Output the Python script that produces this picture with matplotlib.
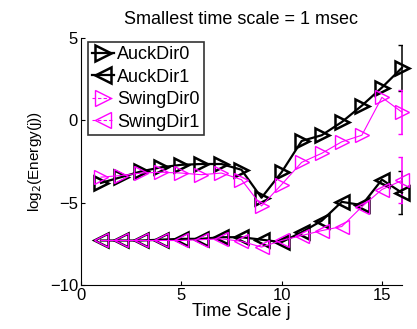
import matplotlib.pyplot as plt
import numpy as np
from matplotlib.lines import Line2D

plt.rcParams['font.family'] = ['Liberation Sans', 'DejaVu Sans']

# time scales
j = np.arange(1, 17)

auck_dir0 = [-3.8, -3.45, -3.1, -2.85, -2.7, -2.65, -2.65, -3.0, -4.7, -3.15,
             -1.25, -0.9, -0.1, 0.9, 2.0, 3.2]
auck_dir1 = [-7.3, -7.3, -7.3, -7.25, -7.2, -7.2, -7.1, -7.1, -7.25, -7.4,
             -6.8, -6.1, -4.95, -5.15, -3.6, -4.4]
swing_dir0 = [-3.45, -3.35, -3.2, -3.15, -3.2, -3.3, -3.2, -3.6, -5.2, -3.9,
              -2.55, -2.0, -1.3, -0.9, 1.4, 0.5]
swing_dir1 = [-7.3, -7.3, -7.3, -7.3, -7.3, -7.25, -7.2, -7.35, -7.7, -7.3,
              -7.0, -6.7, -6.45, -5.25, -4.2, -3.65]

# error bars drawn only at the last scale
err_last = {'auck0': 1.4, 'auck1': 1.3, 'swing0': 1.35, 'swing1': 1.4}

MAG = '#ff00ff'

fig = plt.figure(figsize=(4.17, 3.29), dpi=100)
ax = fig.add_axes([0.194, 0.134, 0.77, 0.75])

ms = 10
ax.plot(j, auck_dir0, '-', marker='>', color='k', lw=1.6, ms=ms, mew=1.8,
        mfc='none', clip_on=False, zorder=3)
ax.plot(j, auck_dir1, '-', marker='<', color='k', lw=1.6, ms=ms, mew=1.8,
        mfc='none', clip_on=False, zorder=3)
ax.plot(j, swing_dir0, '-', marker='>', color=MAG, lw=0.8, ms=ms, mew=1.0,
        mfc='none', clip_on=False, zorder=4)
ax.plot(j, swing_dir1, '-', marker='<', color=MAG, lw=0.8, ms=ms, mew=1.0,
        mfc='none', clip_on=False, zorder=4)

for y, e, c in [(auck_dir0[-1], err_last['auck0'], 'k'),
                (auck_dir1[-1], err_last['auck1'], 'k'),
                (swing_dir0[-1], err_last['swing0'], MAG),
                (swing_dir1[-1], err_last['swing1'], MAG)]:
    eb = ax.errorbar(j[-1], y, yerr=e, fmt='none', ecolor=c, elinewidth=1.1,
                     capsize=3, capthick=1.0, zorder=2)
    for bar in eb[2]:
        bar.set_clip_on(False)
    for cap in eb[1]:
        cap.set_clip_on(True)

ax.set_xlim(0, 16)
ax.set_ylim(-10, 5)
ax.set_xticks([0, 5, 10, 15])
ax.set_yticks([-10, -5, 0, 5])
ax.set_yticklabels(['\u221210', '\u22125', '0', '5'])
ax.tick_params(direction='in', length=3, labelsize=12, pad=2)
ax.spines['top'].set_visible(False)
ax.spines['right'].set_visible(False)

ax.set_title('Smallest time scale = 1 msec', fontsize=13, pad=10)
ax.set_xlabel('Time Scale j', fontsize=13, labelpad=0)
ax.set_ylabel('log$_2$(Energy(j))', fontsize=11, labelpad=4)

handles = [
    Line2D([], [], color='k', lw=1.6, marker='>', ms=11, mew=1.8, mfc='none'),
    Line2D([], [], color='k', lw=1.6, marker='<', ms=11, mew=1.8, mfc='none'),
    Line2D([], [], color=MAG, lw=0.8, ls='--', dashes=(3, 2), marker='>', ms=11, mew=1.0, mfc='none'),
    Line2D([], [], color=MAG, lw=0.8, ls='--', dashes=(3, 2), marker='<', ms=11, mew=1.0, mfc='none'),
]
leg = ax.legend(handles, ['AuckDir0', 'AuckDir1', 'SwingDir0', 'SwingDir1'],
                loc='upper left', bbox_to_anchor=(0.022, 0.985), fontsize=13,
                handlelength=1.2, handletextpad=0.15, borderpad=0.25,
                labelspacing=0.3, borderaxespad=0, fancybox=False)
leg.get_frame().set_edgecolor('k')
leg.get_frame().set_linewidth(1.2)

fig.savefig('out.png', dpi=100)
